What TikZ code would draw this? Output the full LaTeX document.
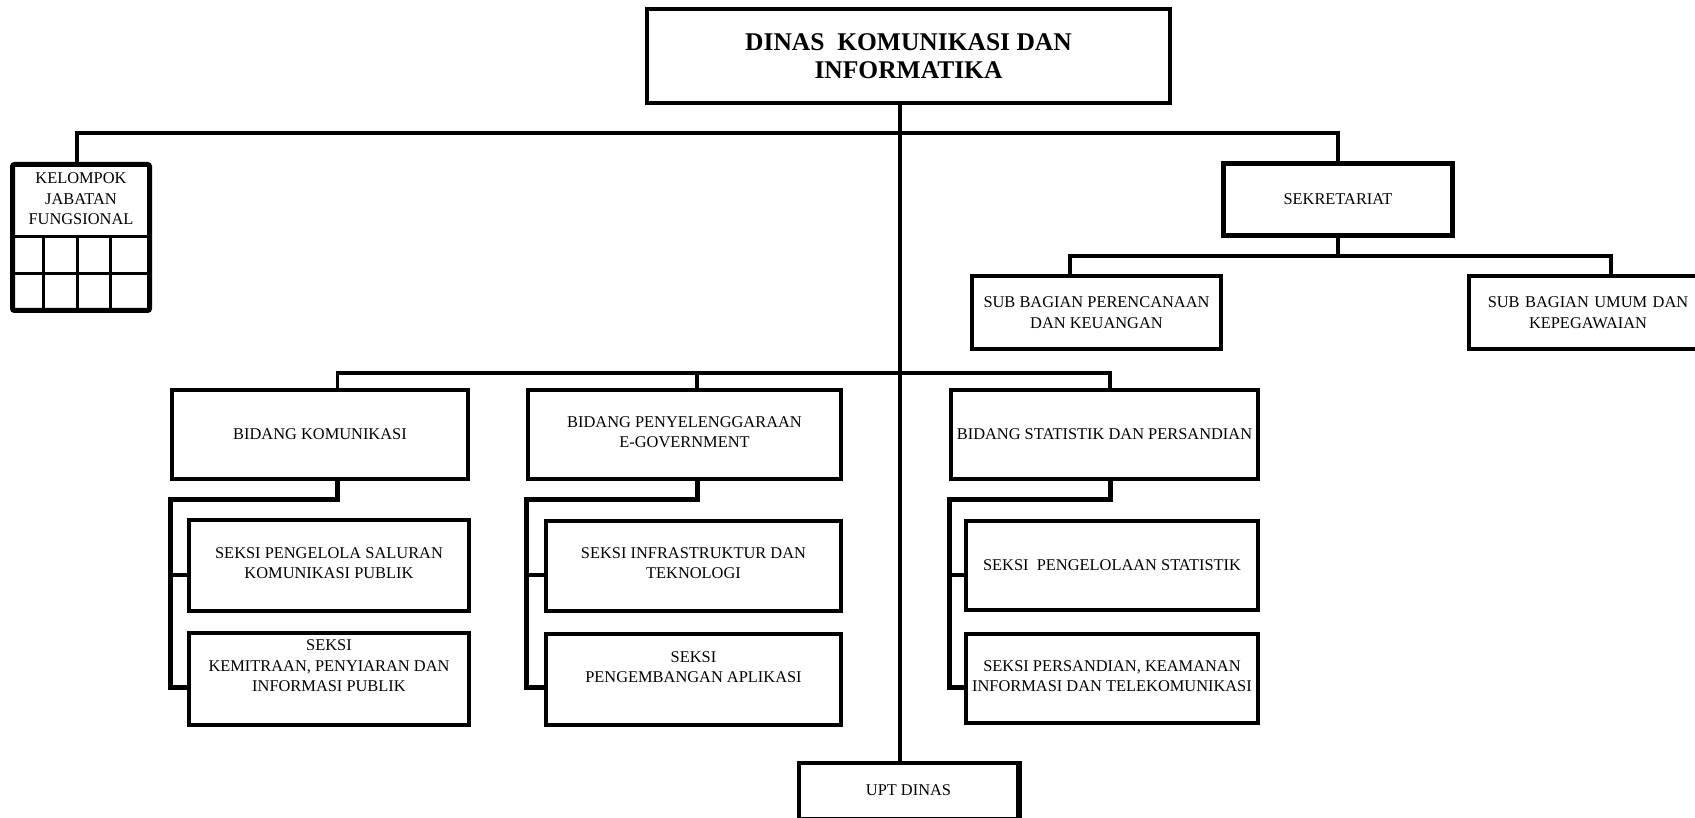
\documentclass[tikz,border=0pt]{standalone}
\usepackage{fontspec}
\setmainfont{Liberation Serif}
\newcommand{\bodyf}{\fontsize{16.4}{20.5}\selectfont}
\newcommand{\titlef}{\fontsize{25.5}{28}\selectfont\bfseries}
\begin{document}
\begin{tikzpicture}[x=1pt,y=-1pt,
  box/.style={draw, line width=3.5pt, inner sep=0pt, align=center, font=\bodyf},
  txt/.style={inner sep=0pt, align=center, font=\bodyf},
  conn/.style={draw, line width=3.5pt, line join=miter},
  conn2/.style={draw, line width=5pt, line join=miter},
  grid/.style={draw, line width=3pt}]
\useasboundingbox (0,0) rectangle (1695,818);

% top
\node[box, line width=4pt, minimum width=523pt, minimum height=94pt, font=\titlef] (top) at (908.5,56) {DINAS~ KOMUNIKASI DAN\\INFORMATIKA};

% kelompok jabatan fungsional
\node[draw, line width=5pt, rounded corners=2pt, minimum width=137pt, minimum height=146pt, inner sep=0pt] (kjf) at (81,237.5) {};
\node[txt] (kjft) at (81,199) {KELOMPOK\\JABATAN\\FUNGSIONAL};
\coordinate (g1) at (43,237);
\coordinate (g2) at (77,237);
\coordinate (g3) at (110,237);
\coordinate (r1) at (81,237);
\coordinate (r2) at (81,274);
\draw[grid] (kjf.west |- r1) -- (kjf.east |- r1);
\draw[grid] (kjf.west |- r2) -- (kjf.east |- r2);
\draw[grid] (g1) -- (g1 |- kjf.south);
\draw[grid] (g2) -- (g2 |- kjf.south);
\draw[grid] (g3) -- (g3 |- kjf.south);

% sekretariat
\node[box, line width=5pt, minimum width=229pt, minimum height=72pt] (sek) at (1338,199.5) {SEKRETARIAT};
\node[box, minimum width=249pt, minimum height=73pt] (sbp) at (1096.5,312.5) {SUB BAGIAN PERENCANAAN\\DAN KEUANGAN};
\node[box, minimum width=238pt, minimum height=73pt, text width=238pt] (sbu) at (1588,312.5) {SUB BAGIAN UMUM DAN\\KEPEGAWAIAN};

% bidang
\node[box, minimum width=296pt, minimum height=89pt] (bk) at (320,434.5) {BIDANG KOMUNIKASI};
\node[box, minimum width=313pt, minimum height=89pt] (bpe) at (684.5,434.5) {};
\node[txt] (bpet) at (684.5,432) {BIDANG PENYELENGGARAAN\\E-GOVERNMENT};
\node[box, minimum width=307pt, minimum height=89pt] (bsp) at (1104.5,434.5) {BIDANG STATISTIK DAN PERSANDIAN};

% seksi
\node[box, minimum width=280pt, minimum height=91pt] (s1) at (329,565.5) {};
\node[txt] (s1t) at (329,563) {SEKSI PENGELOLA SALURAN\\KOMUNIKASI PUBLIK};
\node[box, minimum width=280pt, minimum height=92pt] (s2) at (329,679) {};
\node[txt] (s2t) at (329,666) {SEKSI\\KEMITRAAN, PENYIARAN DAN\\INFORMASI PUBLIK};
\node[box, minimum width=295pt, minimum height=90pt] (s3) at (693.5,566) {};
\node[txt] (s3t) at (693.5,563) {SEKSI INFRASTRUKTUR DAN\\TEKNOLOGI};
\node[box, minimum width=295pt, minimum height=91pt] (s4) at (693.5,679.5) {};
\node[txt] (s4t) at (693.5,667) {SEKSI\\PENGEMBANGAN APLIKASI};
\node[box, minimum width=292pt, minimum height=89pt] (s5) at (1112,565.5) {SEKSI~ PENGELOLAAN STATISTIK};
\node[box, minimum width=292pt, minimum height=89pt] (s6) at (1112,678.5) {};
\node[txt] (s6t) at (1112,676) {SEKSI PERSANDIAN, KEAMANAN\\INFORMASI DAN TELEKOMUNIKASI};

% UPT
\node[box, minimum width=219pt, minimum height=56pt] (upt) at (908.5,791) {};
\node[txt] (uptt) at (908.5,790) {UPT DINAS};
\draw[line width=6pt] ([xshift=-1pt]upt.north east) -- ([xshift=-1pt]upt.south east);

% main connectors
\coordinate (trunk) at (900,133);
\coordinate (kj) at (77,133);
\draw[conn] (top.south -| trunk) -- (upt.north -| trunk);
\draw[conn] (kjf.north -| kj) -- (kj) -- (sek.north |- kj) -- (sek.north);

% sekretariat connectors
\coordinate (sy) at (1338,256);
\coordinate (sbpc) at (1070,256);
\coordinate (sbuc) at (1611,256);
\draw[conn] (sek.south) -- (sy);
\draw[conn] (sbp.north -| sbpc) -- (sbpc) -- (sbuc) -- (sbu.north -| sbuc);

% bidang connectors
\coordinate (b1) at (337.5,373);
\coordinate (b2) at (697,373);
\coordinate (b3) at (1110,373);
\draw[conn] (bk.north -| b1) -- (b1) -- (b3) -- (bsp.north -| b3);
\draw[conn] (b2) -- (bpe.north -| b2);

% bidang komunikasi -> seksi
\coordinate (k1) at (337.5,499);
\coordinate (k2) at (170,499);
\coordinate (k3) at (170,575);
\coordinate (k4) at (170,687);
\draw[conn2] (bk.south -| k1) -- (k1) -- (k2) -- (k4) -- (s2.west |- k4);
\draw[conn] (k3) -- (s1.west |- k3);

% bidang e-gov -> seksi
\coordinate (e1) at (697,499);
\coordinate (e2) at (526,499);
\coordinate (e3) at (526,575);
\coordinate (e4) at (526,687);
\draw[conn2] (bpe.south -| e1) -- (e1) -- (e2) -- (e4) -- (s4.west |- e4);
\draw[conn] (e3) -- (s3.west |- e3);

% bidang statistik -> seksi
\coordinate (t1) at (1110,499);
\coordinate (t2) at (949,499);
\coordinate (t3) at (949,575);
\coordinate (t4) at (949,687);
\draw[conn2] (bsp.south -| t1) -- (t1) -- (t2) -- (t4) -- (s6.west |- t4);
\draw[conn] (t3) -- (s5.west |- t3);
\end{tikzpicture}
\end{document}
